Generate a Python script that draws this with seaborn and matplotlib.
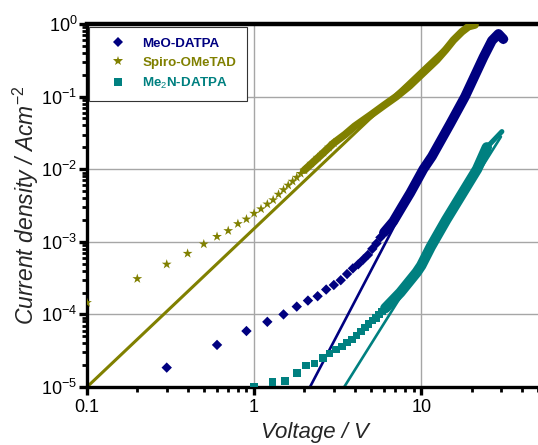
import matplotlib
matplotlib.use("Agg")
import matplotlib.pyplot as plt
import seaborn as sns
import pandas as pd
from matplotlib.lines import Line2D
from matplotlib.ticker import FixedLocator, FuncFormatter, LogLocator, NullFormatter

# ---------------- data ----------------
# MeO-DATPA: separate markers, then the dense (overlapping) part
meo_v_pts = [0.3, 0.6, 0.9, 1.2, 1.5, 1.8, 2.1, 2.4, 2.7, 3.0, 3.3, 3.6, 3.9, 4.2, 4.5, 4.8, 5.1, 5.4, 5.7, 6.0]
meo_j_pts = [1.85e-5, 3.8e-5, 5.9e-5, 7.9e-5, 1.0e-4, 1.28e-4, 1.55e-4, 1.78e-4, 2.2e-4, 2.54e-4,
             2.96e-4, 3.6e-4, 4.3e-4, 4.9e-4, 5.7e-4, 6.6e-4, 8.0e-4, 9.5e-4, 1.15e-3, 1.35e-3]
meo_v_band = [6.0, 6.8, 7.65, 8.6, 10.3, 11.6, 14.9, 18.3, 23.6, 26.5, 29.0, 31.0]
meo_j_band = [1.35e-3, 1.9e-3, 3.0e-3, 4.7e-3, 1.0e-2, 1.5e-2, 4.2e-2, 0.10, 0.35, 0.59, 0.73, 0.62]
meo_fit_v = [2.16, 27.0]
meo_fit_j = [1.0e-5, 0.66]

# Spiro-OMeTAD
spiro_v_pts = [0.1, 0.2, 0.3, 0.4, 0.5, 0.6, 0.7, 0.8, 0.9, 1.0, 1.1, 1.2, 1.3, 1.4, 1.5, 1.6, 1.7,
               1.8, 1.9, 2.0, 2.2, 2.4, 2.6, 2.8, 3.0]
spiro_j_pts = [1.45e-4, 3.1e-4, 4.9e-4, 6.9e-4, 9.3e-4, 1.18e-3, 1.42e-3, 1.77e-3, 2.05e-3, 2.46e-3,
               2.83e-3, 3.3e-3, 3.77e-3, 4.5e-3, 5.2e-3, 6.0e-3, 6.8e-3, 7.7e-3, 8.7e-3, 9.7e-3,
               1.2e-2, 1.45e-2, 1.7e-2, 2.0e-2, 2.3e-2]
spiro_v_band = [2.0, 2.5, 3.0, 3.5, 4.0, 5.0, 6.0, 7.1, 8.5, 10.0, 12.4, 14.0, 15.6, 17.5, 19.2, 21.0]
spiro_j_band = [9.7e-3, 1.55e-2, 2.3e-2, 3.0e-2, 3.9e-2, 5.6e-2, 7.6e-2, 0.10, 0.14, 0.20, 0.32,
                0.44, 0.60, 0.78, 0.92, 0.97]
spiro_fit_v = [0.1, 19.6]
spiro_fit_j = [1.0e-5, 1.0]

# Me2N-DATPA
me2n_v_pts = [1.0, 1.29, 1.53, 1.80, 2.04, 2.30, 2.58, 2.82, 3.08, 3.35, 3.59, 3.85, 4.1, 4.35,
              4.6, 4.85, 5.1, 5.35, 5.6, 5.85, 6.1]
me2n_j_pts = [1.0e-5, 1.17e-5, 1.2e-5, 1.55e-5, 1.97e-5, 2.12e-5, 2.5e-5, 2.9e-5, 3.3e-5, 3.6e-5,
              4.1e-5, 4.5e-5, 5.1e-5, 5.8e-5, 6.6e-5, 7.4e-5, 8.2e-5, 9.0e-5, 1.0e-4, 1.1e-4, 1.22e-4]
me2n_v_band = [6.1, 7.5, 9.4, 10.0, 11.4, 14.1, 21.6, 24.7]
me2n_j_band = [1.22e-4, 2.0e-4, 3.8e-4, 4.7e-4, 8.5e-4, 2.0e-3, 1.0e-2, 2.0e-2]
me2n_v_tail = [24.7, 30.4]
me2n_j_tail = [2.0e-2, 3.3e-2]
me2n_fit_v = [3.46, 30.0]
me2n_fit_j = [1.0e-5, 2.8e-2]

labels = ["MeO-DATPA", "Spiro-OMeTAD", "Me$_2$N-DATPA"]
colors = ["#000080", "#808000", "#008080"]
markers = ["D", "*", "s"]

x_ticks = [0.1, 1, 10]
x_tick_labels = ["0.1", "1", "10"]

# ---------------- style ----------------
sns.set_style("white")
plt.rcParams["font.family"] = ["Liberation Sans", "DejaVu Sans"]
plt.rcParams["mathtext.fontset"] = "custom"
plt.rcParams["mathtext.rm"] = "Liberation Sans"
plt.rcParams["mathtext.it"] = "Liberation Sans:italic"
plt.rcParams["mathtext.bf"] = "Liberation Sans:bold"
plt.rcParams.update({
    "xtick.bottom": True, "xtick.top": False, "ytick.left": True, "ytick.right": False,
    "xtick.color": "black", "ytick.color": "black",
    "xtick.labelcolor": "black", "ytick.labelcolor": "black",
})

fig = plt.figure(figsize=(5.38, 4.45), dpi=100)
ax = fig.add_axes([87 / 538, 1 - 387 / 445, 451 / 538, 363 / 445])
ax.set_xscale("log")
ax.set_yscale("log")

def band(v, j, color, lw, z):
    sns.lineplot(x=v, y=j, ax=ax, color=color, lw=lw, sort=False, estimator=None,
                 solid_capstyle="round", zorder=z, legend=False)

def pts(v, j, color, marker, s, z):
    sns.scatterplot(x=v, y=j, ax=ax, color=color, marker=marker, s=s, edgecolor="none",
                    linewidth=0, zorder=z, legend=False, clip_on=True)

# fit lines
band(spiro_fit_v, spiro_fit_j, colors[1], 2.2, 2)
band(meo_fit_v, meo_fit_j, colors[0], 1.9, 2)
band(me2n_fit_v, me2n_fit_j, colors[2], 1.9, 2)

# data
band(spiro_v_band, spiro_j_band, colors[1], 5.5, 3)
pts(spiro_v_pts, spiro_j_pts, colors[1], "*", 55, 3)
band(meo_v_band, meo_j_band, colors[0], 7.0, 3)
pts(meo_v_pts, meo_j_pts, colors[0], "D", 28, 3)
pts([meo_v_band[-1]], [meo_j_band[-1]], colors[0], "D", 28, 3)
band(me2n_v_band, me2n_j_band, colors[2], 7.5, 3)
band(me2n_v_tail, me2n_j_tail, colors[2], 3.6, 3)
pts(me2n_v_pts, me2n_j_pts, colors[2], "s", 30, 3)

ax.set_xlim(0.1, 50)
ax.set_ylim(1e-5, 1)

# grid
ax.grid(True, which="major", color="#a6a6a6", lw=1.0)
ax.grid(False, which="minor")
ax.set_axisbelow(True)

# spines
for side, lw in [("left", 2.4), ("bottom", 2.4), ("top", 3.2)]:
    ax.spines[side].set_visible(True)
    ax.spines[side].set_color("black")
    ax.spines[side].set_linewidth(lw)
ax.spines["right"].set_visible(False)

# ticks
ax.xaxis.set_major_locator(FixedLocator(x_ticks))
ax.xaxis.set_major_formatter(FuncFormatter(lambda v, p: x_tick_labels[x_ticks.index(v)] if v in x_ticks else ""))
ax.xaxis.set_minor_locator(LogLocator(base=10, subs=range(2, 10), numticks=20))
ax.xaxis.set_minor_formatter(NullFormatter())
ax.yaxis.set_major_locator(LogLocator(base=10, numticks=10))
ax.yaxis.set_minor_locator(LogLocator(base=10, subs=range(2, 10), numticks=20))
ax.yaxis.set_minor_formatter(NullFormatter())
ax.tick_params(axis="both", which="major", direction="out", length=5.5, width=2.4,
               labelsize=13, pad=1.5, color="black", bottom=True, left=True, top=False, right=False)
ax.tick_params(axis="both", which="minor", direction="out", length=3.5, width=2.0,
               color="black", bottom=True, left=True, top=False, right=False)
ax.tick_params(axis="x", which="major", pad=3)

ax.set_xlabel("Voltage / V", fontsize=16, style="italic")
ax.set_ylabel("Current density / Acm$^{-2}$", fontsize=16.5, style="italic")
ax.xaxis.set_label_coords(0.505, -0.097)
ax.yaxis.set_label_coords(-0.103, 0.50)

# legend
handles = [Line2D([], [], ls="none", marker=m, color=c, markersize=ms, markeredgewidth=0)
           for m, c, ms in zip(markers, colors, [5.3, 7.4, 5.5])]
leg = ax.legend(handles, labels, loc="upper left", bbox_to_anchor=(0.004, 0.992),
                frameon=True, fancybox=False, edgecolor="#333333", framealpha=1,
                prop={"weight": "bold", "size": 9.6}, borderpad=0.8, labelspacing=0.5,
                handlelength=2.8, handletextpad=0.4, borderaxespad=0, markerscale=1)
leg.get_frame().set_linewidth(0.8)
for t, c in zip(leg.get_texts(), colors):
    t.set_color(c)

fig.savefig("out.png", dpi=100)
